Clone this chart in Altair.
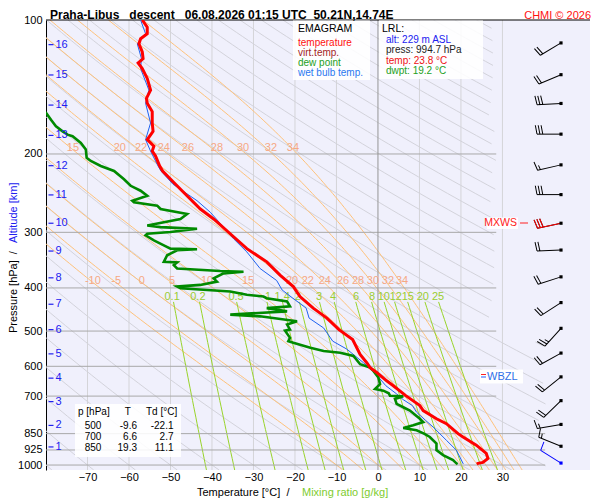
import numpy as np
import pandas as pd
import altair as alt

FONT = "Liberation Sans"
NB = "\u00a0"

# ---------------- sounding profiles (pressure hPa, value degC) ----------------
TEMP_P = [100.0, 103.8, 107.4, 110.2, 113.1, 118.0, 122.1, 124.9, 128.6, 135.3,
          143.7, 150.0, 153.8, 160.6, 170.4, 177.9, 185.7, 192.1, 197.1, 202.2,
          212.8, 218.4, 231.8, 244.2, 265.9, 279.9, 302.2, 326.4, 349.5, 374.2,
          397.2, 418.2, 444.1, 467.5, 496.2, 522.3, 563.9, 588.9, 604.0, 619.7,
          646.7, 663.4, 698.4, 735.2, 754.3, 787.1, 807.5, 850.0, 864.9, 902.5,
          941.9, 966.2, 986.3, 991.5, 994.7]
TEMP_C = [-56.8, -55.6, -55.6, -57.2, -57.6, -56.8, -56.6, -57.8, -56.8, -55.6,
          -54.8, -55.8, -55.6, -54.4, -54.4, -54.2, -55.6, -54.0, -54.4, -53.6,
          -52.6, -51.9, -49.2, -46.8, -42.8, -39.6, -35.6, -31.6, -26.8, -23.6,
          -20.4, -18.8, -15.6, -12.3, -9.4, -6.1, -4.3, -2.7, -1.9, -0.3,
          2.1, 3.7, 6.7, 10.1, 10.9, 14.1, 16.5, 19.3, 20.5, 23.7,
          26.1, 26.5, 25.3, 24.1, 23.8]

WETB_P = [100.0, 107.4, 113.1, 122.1, 128.6, 143.7, 153.8, 170.4, 185.7, 197.1,
          212.8, 218.4, 233.9, 254.7, 270.4, 292.1, 310.1, 332.0, 361.8, 385.0,
          404.2, 421.9, 444.1, 467.5, 492.0, 526.8, 549.0, 588.9, 619.7, 663.4,
          692.2, 713.0, 735.2, 760.7, 794.0, 821.7, 879.9, 926.1, 991.5, 994.7]
WETB_C = [-57.2, -56.0, -58.0, -57.0, -57.2, -55.2, -56.0, -54.8, -56.0, -54.8,
          -53.0, -52.3, -49.4, -43.6, -40.4, -37.2, -34.8, -31.6, -28.4, -24.4,
          -23.1, -20.5, -17.3, -16.6, -13.1, -10.9, -7.5, -3.5, -0.8, 1.9,
          4.5, 6.1, 8.3, 9.3, 11.5, 13.3, 16.5, 18.9, 20.5, 20.6]

DEW_P = [158.0, 162.0, 167.6, 173.4, 177.9, 181.0, 182.5, 188.9, 195.5, 203.9,
         207.4, 212.8, 218.4, 228.0, 235.8, 241.9, 248.2, 254.7, 256.9, 261.3,
         265.9, 272.8, 279.9, 289.5, 292.0, 294.6, 299.6, 302.3, 304.7, 312.7,
         320.8, 326.4, 327.4, 329.1, 337.7, 349.4, 350.5, 355.4, 361.6, 366.5,
         367.8, 371.0, 380.7, 387.1, 393.8, 397.2, 400.7, 407.5, 414.5, 418.1,
         421.8, 429.0, 440.1, 444.0, 451.5, 459.3, 463.3, 475.3, 483.5, 496.0,
         499.0, 517.9, 526.7, 531.2, 545.1, 554.3, 559.2, 568.8, 593.5, 604.0,
         614.3, 635.8, 657.7, 674.7, 680.6, 690.0, 698.5, 700.5, 710.2, 728.6,
         741.5, 754.1, 786.9, 800.8, 814.4, 825.9, 835.6, 850.0, 864.8, 894.6,
         925.8, 949.9, 974.5, 991.1, 994.7]
DEW_C = [-81.0, -79.9, -78.8, -77.6, -76.0, -74.8, -73.6, -71.6, -70.4, -70.2,
         -69.2, -66.8, -63.6, -61.2, -59.6, -57.2, -55.6, -59.2, -58.8, -53.2,
         -52.4, -46.0, -47.6, -55.6, -52.4, -43.6, -50.0, -55.6, -56.0, -54.0,
         -51.6, -50.0, -43.6, -48.4, -50.8, -51.6, -48.4, -49.2, -48.4, -38.0,
         -32.4, -37.2, -39.6, -38.8, -42.8, -48.4, -47.6, -35.6, -31.6, -27.6,
         -26.8, -21.9, -21.2, -26.8, -21.9, -35.6, -28.4, -19.5, -21.9, -21.2,
         -22.4, -21.2, -21.6, -20.4, -16.3, -13.1, -9.1, -5.9, -4.3, -1.9,
         -1.1, 0.1, 0.5, -0.7, 1.3, 2.6, 2.9, 6.1, 4.1, 4.5,
         6.1, 7.7, 10.1, 10.9, 8.5, 6.1, 9.3, 11.1, 12.5, 14.1,
         14.1, 15.7, 18.1, 18.9, 19.2]

# ---------------- wind ----------------
WIND_P = [112.6, 132.7, 154.0, 180.5, 211.6, 246.8, 286.2, 328.8, 377.7,
          431.5, 493.0, 560.3, 633.7, 716.6, 810.5, 907.4, 989.8]
WIND_DIR = [239, 247, 267, 270, 257, 270, 258, 268, 252,
            237, 222, 241, 231, 226, 260, 292, 302]
WIND_KT = [20, 20, 30, 30, 15, 30, 30, 20, 20,
           20, 25, 20, 20, 20, 15, 15, 10]
MXWS_P = 286.2
WBZL_P = 634.0

# ---------------- altitude scale ----------------
ALT_KM = list(range(1, 17))
ALT_P = [910.6, 814.6, 720.3, 637.9, 562.6, 496.3, 435.2, 379.6, 330.5, 286.2,
         247.2, 212.5, 181.7, 155.3, 132.9, 113.6]

# ---------------- diagram furniture ----------------
P_TICKS = [100, 200, 300, 400, 500, 600, 700, 850, 925, 1000]
P_LEVELS = [200, 300, 400, 500, 600, 700, 850, 925, 1000]
P_LEVEL_END = [28.5, 28.5, 28.5, 28.5, 28.5, 28.5, 40.3, 40.3, 40.3]
T_TICKS = [-70, -60, -50, -40, -30, -20, -10, 0, 10, 20, 30]
DRY_THETA_C = list(range(-80, 320, 10))
MOIST_THETAW_C = [-10, -5, 0, 5, 10, 15, 20, 22, 24, 26, 28, 30, 32, 34]
MIX_RATIO = [0.1, 0.2, 0.5, 1, 1.4, 2, 3, 4, 6, 8, 10, 12, 15, 20, 25]
MIX_LABEL_T = [-49.6, -43.4, -34.2, -26.5, -23.1, -19.3, -14.2, -10.8, -5.3,
               -1.4, 1.4, 4.3, 7.2, 10.8, 14.5]
MIX_LABEL_P = 418.4
MOIST_LBL_LOW = ["-10", "-5", "0", "5", "10", "15", "20", "22", "24", "26", "28", "30", "32", "34"]
MOIST_LBL_LOW_T = [-68.7, -63.1, -56.9, -49.6, -41.2, -31.3, -20.7, -16.9, -12.8,
                   -8.4, -4.8, -1.2, 2.4, 5.8]
MOIST_LBL_LOW_P = 385.3
MOIST_LBL_HIGH = ["15", "20", "22", "24", "26", "28", "30", "32", "34"]
MOIST_LBL_HIGH_T = [-73.5, -62.2, -57.1, -51.6, -45.8, -38.8, -32.5, -25.8, -20.5]
MOIST_LBL_HIGH_P = 193.9

TABLE_P = [500, 700, 850]
TABLE_T = [-9.6, 6.6, 19.3]
TABLE_TD = [-22.1, 2.7, 11.1]

LRL_ALT, LRL_PRESS, LRL_TEMP, LRL_DWPT = 229, 994.7, 23.8, 19.2

# ---------------- colours ----------------
BG = "#f0f0fc"
C_GRIDV = "#d4d4d8"
C_ZERO = "#959595"
C_PLEV = "#a8a8a8"
C_DRY = "#d3d3db"
C_MOIST = "#ffc27a"
C_MIX = "#99d42a"
C_MOIST_LBL = "#f6a884"
C_MIX_LBL = "#9acd32"
C_BLUE = "#2020f0"

# ---------------- scales / axes ----------------
xs = alt.Scale(domain=[-80, 51.1], nice=False, zero=False)
ys = alt.Scale(type="log", domain=[100, 1026], reverse=True, nice=False)
x_axis = alt.Axis(values=T_TICKS, title=None, grid=False, ticks=False, tickSize=0,
                  domain=False, labelPadding=1, labelFontSize=11, labelFont=FONT,
                  labelColor="black", labelFlush=False, format="d", labelOverlap=False)
y_axis = alt.Axis(values=P_TICKS, title=None, grid=False, ticks=False, tickSize=0,
                  domain=True, domainColor="black", domainWidth=1, labelPadding=4,
                  labelFontSize=11, labelFont=FONT, labelColor="black", format="d",
                  labelFlush=False, labelOverlap=False)


def X(f="T"):
    return alt.X(f"{f}:Q", scale=xs, axis=x_axis)


def Y(f="p"):
    return alt.Y(f"{f}:Q", scale=ys, axis=y_axis)


def tmax(p):
    return 28.5 if p < 520 else 40.5


def line_frame(curves):
    rows = []
    for name, P, T in curves:
        seg = 0
        prev = False
        for k, (p, t) in enumerate(zip(P, T)):
            ok = (t <= tmax(p)) and (t >= -95)
            if ok:
                if not prev:
                    seg += 1
                rows.append({"line": f"{name}-{seg}", "i": k,
                             "T": round(float(t), 2), "p": round(float(p), 2)})
            prev = ok
    return pd.DataFrame(rows)


# dry adiabats
P_DRY = np.geomspace(1026, 100, 110)
dry_curves = [(f"d{th}", P_DRY, (th + 273.15) * (P_DRY / 1000.0) ** 0.2857 - 273.15)
              for th in DRY_THETA_C]
dry_df = line_frame(dry_curves)


# pseudo-adiabats
def moist_curve(tw):
    Rd, cp, Lv, eps = 287.04, 1005.7, 2.501e6, 0.622

    def f(lnp, T):
        p = np.exp(lnp)
        e = 6.112 * np.exp(17.67 * (T - 273.15) / (T - 29.65))
        rs = eps * e / (p - e)
        return (Rd * T + Lv * rs) / (cp + Lv * Lv * rs * eps / (Rd * T * T))

    def run(pseq):
        T = tw + 273.15
        out = [T]
        for a, b in zip(pseq[:-1], pseq[1:]):
            h = np.log(b) - np.log(a)
            x0 = np.log(a)
            k1 = f(x0, T)
            k2 = f(x0 + h / 2, T + h / 2 * k1)
            k3 = f(x0 + h / 2, T + h / 2 * k2)
            k4 = f(x0 + h, T + h * k3)
            T = T + h / 6 * (k1 + 2 * k2 + 2 * k3 + k4)
            out.append(T)
        return np.array(out)

    up = np.geomspace(1000, 100, 160)
    down = np.geomspace(1000, 1026, 5)
    Tu = run(up)
    Tdn = run(down)
    P = np.concatenate([down[::-1], up[1:]])
    T = np.concatenate([Tdn[::-1], Tu[1:]]) - 273.15
    return P, T


moist_curves = []
for tw in MOIST_THETAW_C:
    P, T = moist_curve(tw)
    moist_curves.append((f"m{tw}", P, T))
moist_df = line_frame(moist_curves)

# mixing ratio lines
P_MIX = np.geomspace(1026, 430, 30)
mix_curves = []
for w in MIX_RATIO:
    e = w * P_MIX / (622.0 + w)
    lg = np.log(e / 6.112)
    mix_curves.append((f"w{w}", P_MIX, 243.5 * lg / (17.67 - lg)))
mix_df = line_frame(mix_curves)

layers = []

# vertical grid
layers.append(alt.Chart(pd.DataFrame({"T": [t for t in T_TICKS if t != 0]}))
              .mark_rule(color=C_GRIDV, strokeWidth=1).encode(x=X()))
# diagram lines
layers.append(alt.Chart(dry_df).mark_line(color=C_DRY, strokeWidth=1, clip=True)
              .encode(x=X(), y=Y(), detail="line:N", order="i:Q"))
layers.append(alt.Chart(moist_df).mark_line(color=C_MOIST, strokeWidth=1, clip=True)
              .encode(x=X(), y=Y(), detail="line:N", order="i:Q"))
layers.append(alt.Chart(mix_df).mark_line(color=C_MIX, strokeWidth=1, clip=True)
              .encode(x=X(), y=Y(), detail="line:N", order="i:Q"))
# pressure levels
plev_df = pd.DataFrame({"p": P_LEVELS, "T0": [-80] * len(P_LEVELS), "T1": P_LEVEL_END})
layers.append(alt.Chart(plev_df).mark_rule(color=C_PLEV, strokeWidth=1)
              .encode(x=X("T0"), x2="T1:Q", y=Y()))
# zero isotherm
layers.append(alt.Chart(pd.DataFrame({"T": [0]})).mark_rule(color=C_ZERO, strokeWidth=1)
              .encode(x=X()))

dummy = pd.DataFrame({"a": [0]})
# top border
layers.append(alt.Chart(dummy).mark_rule(color="black", strokeWidth=1)
              .encode(x=alt.value(0), x2=alt.value(544), y=alt.value(0)))

# labels of moist adiabats & mixing ratio
ml_df = pd.DataFrame({"T": MOIST_LBL_LOW_T + MOIST_LBL_HIGH_T,
                      "p": [MOIST_LBL_LOW_P] * len(MOIST_LBL_LOW_T) + [MOIST_LBL_HIGH_P] * len(MOIST_LBL_HIGH_T),
                      "txt": MOIST_LBL_LOW + MOIST_LBL_HIGH})
layers.append(alt.Chart(ml_df).mark_text(font=FONT, fontSize=11, color=C_MOIST_LBL,
                                         align="center", baseline="middle")
              .encode(x=X(), y=Y(), text="txt:N"))
mx_df = pd.DataFrame({"T": MIX_LABEL_T, "p": [MIX_LABEL_P] * len(MIX_LABEL_T),
                      "txt": [f"{w:g}" for w in MIX_RATIO]})
layers.append(alt.Chart(mx_df).mark_text(font=FONT, fontSize=11, color=C_MIX_LBL,
                                         align="center", baseline="middle")
              .encode(x=X(), y=Y(), text="txt:N"))


def box(x0, x1, y0, y1, opacity=0.88):
    return (alt.Chart(dummy).mark_rect(color="white", opacity=opacity)
            .encode(x=alt.value(x0), x2=alt.value(x1), y=alt.value(y0), y2=alt.value(y1)))


def txt(s, x, y, color="black", size=10, align="left", baseline="middle",
        weight="normal", angle=None):
    kw = dict(text=s, align=align, baseline=baseline, font=FONT, fontSize=size,
              color=color, fontWeight=weight)
    if angle is not None:
        kw["angle"] = angle
    return alt.Chart(dummy).mark_text(**kw).encode(x=alt.value(x), y=alt.value(y))


# legend boxes (plot origin is at page (46, 20))
layers.append(box(247, 324, 0.5, 60))
layers.append(box(333, 437, 0.5, 59))
layers += [
    txt("EMAGRAM", 252, 8.8, size=10.5),
    txt("temperature", 252, 22.5, color="#ff1010"),
    txt("virt.temp.", 252, 32.6, color="#a31f1f"),
    txt("dew point", 252, 42.7, color="#22a022"),
    txt("wet bulb temp.", 252, 52.8, color="#2a78f0"),
    txt("LRL:", 336, 9, size=10.5),
    txt(f"alt: {LRL_ALT} m ASL", 340, 20.3, color=C_BLUE),
    txt(f"press: {LRL_PRESS} hPa", 340, 30.4, color="#222222"),
    txt(f"temp: {LRL_TEMP} °C", 340, 40.5, color="#ee1111"),
    txt(f"dwpt: {LRL_DWPT} °C", 340, 50.6, color="#22a022"),
]

# table
layers.append(box(29, 135, 384, 437))
layers += [txt("p [hPa]", 32, 392), txt("T", 81.7, 392, align="center"),
           txt("Td [°C]", 100, 392)]
for k, (pp, tt, dd) in enumerate(zip(TABLE_P, TABLE_T, TABLE_TD)):
    yy = 406 + 11 * k
    layers += [txt(str(pp), 47, yy, align="center"),
               txt(f"{tt:.1f}", 91, yy, align="right"),
               txt(f"{dd:.1f}", 127.5, yy, align="right")]

# profiles
wb_df = pd.DataFrame({"p": WETB_P, "T": WETB_C, "i": range(len(WETB_P))})
dw_df = pd.DataFrame({"p": DEW_P, "T": DEW_C, "i": range(len(DEW_P))})
tp_df = pd.DataFrame({"p": TEMP_P, "T": TEMP_C, "i": range(len(TEMP_P))})
layers.append(alt.Chart(wb_df).mark_line(color="#1f62f0", strokeWidth=1, clip=True)
              .encode(x=X(), y=Y(), order="i:Q"))
layers.append(alt.Chart(dw_df).mark_line(color="#008a00", strokeWidth=2.6, clip=True)
              .encode(x=X(), y=Y(), order="i:Q"))
layers.append(alt.Chart(tp_df).mark_line(color="#ff0000", strokeWidth=3, clip=True)
              .encode(x=X(), y=Y(), order="i:Q"))


# wind barbs
def barb_path(kt):
    parts = ["M0,0L0,-1"]
    full, half = divmod(int(round(kt / 5.0)), 2)
    y = -1.0
    for _ in range(full):
        parts.append(f"M0,{y:.3f}L0.37,{y - 0.07:.3f}")
        y += 0.12
    if half:
        if full == 0:
            y += 0.12
        parts.append(f"M0,{y:.3f}L0.19,{y - 0.04:.3f}")
    return "".join(parts)


wind_df = pd.DataFrame({"p": WIND_P, "dir": WIND_DIR, "kt": WIND_KT,
                        "i": range(len(WIND_P))})
wind_df["path"] = [barb_path(k) for k in WIND_KT]
last = len(WIND_P) - 1
BX = 515
barb_enc = dict(x=alt.value(BX), y=Y(), shape=alt.Shape("path:N", scale=None),
                angle=alt.Angle("dir:Q", scale=None))
layers.append(alt.Chart(wind_df).transform_filter(alt.datum.i < last)
              .mark_point(filled=False, color="black", strokeWidth=1, opacity=1, size=2304)
              .encode(**barb_enc))
layers.append(alt.Chart(wind_df).transform_filter(alt.datum.p == MXWS_P)
              .mark_point(filled=False, color="#ff0000", strokeWidth=1, opacity=1, size=2304)
              .encode(**barb_enc))
layers.append(alt.Chart(wind_df).transform_filter(alt.datum.i == last)
              .mark_point(filled=False, color="#0000ff", strokeWidth=1, opacity=1, size=2304)
              .encode(**barb_enc))
layers.append(alt.Chart(wind_df).transform_filter(alt.datum.i < last)
              .mark_square(size=10, color="black", opacity=1)
              .encode(x=alt.value(BX), y=Y()))
layers.append(alt.Chart(wind_df).transform_filter(alt.datum.i == last)
              .mark_square(size=10, color="#0000ff", opacity=1)
              .encode(x=alt.value(BX), y=Y()))

# MXWS annotation
layers.append(box(441, 472, 197.5, 209, opacity=0.95))
layers.append(alt.Chart(pd.DataFrame({"p": [MXWS_P]}))
              .mark_text(text="MXWS", font=FONT, fontSize=10.5, color="#ff2020",
                         align="right", baseline="middle")
              .encode(x=alt.value(471), y=Y()))
layers.append(alt.Chart(dummy).mark_rule(color="#ff2020", strokeWidth=1)
              .encode(x=alt.value(474), x2=alt.value(482), y=alt.value(203)))

# WBZL annotation
layers.append(box(434, 477, 349.5, 363.5, opacity=0.95))
layers.append(alt.Chart(dummy).mark_rule(color="#ff2020", strokeWidth=1)
              .encode(x=alt.value(435), x2=alt.value(440), y=alt.value(354.5)))
layers.append(alt.Chart(dummy).mark_rule(color="#2060ff", strokeWidth=1)
              .encode(x=alt.value(435), x2=alt.value(440), y=alt.value(357)))
layers.append(alt.Chart(pd.DataFrame({"p": [WBZL_P]}))
              .mark_text(text="WBZL", font=FONT, fontSize=11, color="#3070e8",
                         align="left", baseline="middle")
              .encode(x=alt.value(441), y=Y()))

# altitude scale
alt_df = pd.DataFrame({"p": ALT_P, "km": [str(k) for k in ALT_KM]})
layers.append(alt.Chart(alt_df).mark_rule(color=C_BLUE, strokeWidth=1.2)
              .encode(x=alt.value(2.5), x2=alt.value(7.5), y=Y()))
layers.append(alt.Chart(alt_df).mark_text(font=FONT, fontSize=11, color=C_BLUE,
                                          align="left", baseline="middle")
              .encode(x=alt.value(9.5), y=Y(), text="km:N"))

# titles
layers += [
    txt(f"Praha-Libus{NB*3}descent{NB*3}06.08.2026 01:15 UTC{NB*2}50.21N,14.74E",
        4, -1.3, size=12, weight="bold", baseline="alphabetic"),
    txt("CHMI © 2026", 545, -1.3, color="#ff1010", size=11, align="right",
        baseline="alphabetic"),
    txt(f"Temperature [°C]{NB*2}/", 151, 473, size=11),
    txt("Mixing ratio [g/kg]", 256, 473, size=11, color="#80cc30"),
    txt(f"Pressure [hPa]{NB*2}/", -32, 313, size=11, angle=270),
    txt("Altitude [km]", -32, 223, size=11, angle=270, color=C_BLUE),
]

chart = (alt.layer(*layers)
         .properties(width=544, height=450,
                     padding={"left": 38, "top": 12, "right": 2, "bottom": 29},
                     autosize=alt.AutoSizeParams(type="none"))
         .configure_view(fill=BG, strokeWidth=0))

chart.save("out.html", embed_options={"renderer": "svg", "actions": False})
